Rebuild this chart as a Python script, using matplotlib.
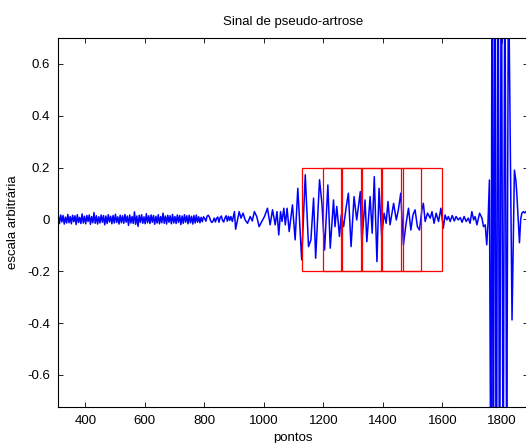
import numpy as np
import matplotlib
matplotlib.use("Agg")
import matplotlib.pyplot as plt
from matplotlib.patches import Rectangle

plt.rcParams['font.family'] = ['Liberation Sans', 'DejaVu Sans']

# ---- data ----
noise_start = 309
noise_step = 4
noise_vals = [
    0.014, -0.016, 0.017, -0.010, 0.015, -0.018, 0.009, -0.014, 0.019, -0.013,
    0.011, -0.017, 0.016, -0.009, 0.014, -0.020, 0.018, -0.012, 0.008, -0.016,
    0.021, -0.014, 0.012, -0.017, 0.015, -0.008, 0.017, -0.019, 0.011, -0.013,
    0.026, -0.015, 0.014, -0.018, 0.010, -0.014, 0.017, -0.011, 0.015, -0.021,
    0.013, -0.016, 0.018, -0.010, 0.012, -0.017, 0.015, -0.014, 0.020, -0.012,
    0.010, -0.018, 0.016, -0.013, 0.014, -0.015, 0.019, -0.011, 0.013, -0.023,
    0.017, -0.014, 0.011, -0.016, 0.029, -0.019, 0.013, -0.027, 0.016, -0.012,
    0.018, -0.015, 0.010, -0.017, 0.022, -0.013, 0.014, -0.016, 0.017, -0.011,
    0.015, -0.019, 0.012, -0.014, 0.018, -0.017, 0.011, -0.013, 0.024, -0.015,
    0.013, -0.018, 0.016, -0.011, 0.014, -0.017, 0.019, -0.014, 0.011, -0.016,
    0.017, -0.012, 0.015, -0.020, 0.013, -0.015, 0.018, -0.011, 0.014, -0.017,
    0.016, -0.013, 0.012, -0.018, 0.015, -0.014, 0.017, -0.011, 0.010, -0.013,
    0.008, -0.009, 0.010, 0.004, -0.007, 0.012, 0.016, 0.009, -0.005, -0.012,
    -0.007, 0.005, -0.010, 0.004, 0.009, -0.011, 0.007, 0.013, -0.004, -0.010,
    0.005, 0.014, -0.007, 0.012, -0.004,
]

active_x = [
    889, 894, 901, 905, 917, 923, 930, 937, 945, 954, 961, 968, 976, 984, 993,
    1002, 1012, 1021, 1029, 1038, 1044, 1050, 1056, 1061, 1067, 1072, 1078, 1085,
    1096, 1105, 1114, 1127, 1139, 1150, 1158, 1167, 1174, 1187, 1195, 1204, 1215,
    1223, 1234, 1239, 1245, 1254, 1260, 1268, 1276, 1284, 1293, 1303, 1312, 1324,
    1329, 1340, 1346, 1357, 1364, 1371, 1380, 1387, 1396, 1404, 1411, 1417, 1424,
    1436, 1445, 1452, 1460, 1469, 1478, 1486, 1494, 1501, 1508, 1516, 1523, 1531,
    1536, 1542, 1550, 1559, 1565, 1572, 1579, 1587, 1595, 1603, 1609, 1615, 1620,
    1626, 1633, 1640, 1646, 1653, 1660, 1666, 1673, 1680, 1687, 1693, 1699, 1705,
    1710, 1716, 1725, 1733, 1738, 1744, 1749, 1753, 1758, 1763, 1767, 1771, 1776,
    1781, 1787, 1792, 1798, 1804, 1810, 1816, 1822, 1834, 1842, 1847, 1850, 1859,
    1863, 1867, 1872, 1877, 1885,
]
active_y = [
    0.011, -0.008, 0.030, -0.038, 0.030, 0.005, 0.024, -0.002, -0.015, 0.011,
    -0.006, 0.030, 0.011, -0.028, -0.008, 0.011, 0.043, -0.021, 0.037, -0.021,
    0.030, -0.060, 0.030, -0.008, 0.043, -0.021, 0.043, -0.047, 0.056, -0.079,
    0.120, -0.156, 0.172, -0.105, -0.079, 0.082, -0.150, 0.153, 0.062, -0.118,
    0.133, -0.111, 0.075, -0.028, 0.050, -0.066, 0.017, -0.028, 0.043, 0.101,
    -0.105, 0.088, -0.002, 0.107, -0.092, 0.075, -0.086, 0.088, -0.053, 0.165,
    -0.163, 0.120, -0.066, 0.024, -0.015, 0.069, -0.021, 0.062, -0.002, 0.037,
    0.101, -0.098, -0.015, 0.043, -0.041, 0.017, 0.037, -0.028, -0.041, 0.037,
    0.062, -0.008, 0.024, 0.005, 0.030, -0.015, 0.024, -0.008, 0.043, -0.034,
    0.017, -0.002, 0.011, -0.008, 0.015, -0.006, 0.011, -0.002, 0.007, -0.011,
    0.011, -0.008, 0.005, -0.015, 0.030, -0.002, 0.011, -0.021, 0.024, 0.005,
    -0.028, -0.021, -0.098, -0.021, 0.152, -1.2, 1.3, -1.5, 1.6, -1.6, 1.5,
    -1.4, 1.3, -1.2, 1.1, -1.0, 1.0, -0.388, 0.19, 0.15, 0.10, -0.09, 0.0,
    0.024, 0.030, 0.025, 0.035,
]

window_starts = [1129, 1197, 1264, 1331, 1398, 1466]
window_width = 131
window_low = -0.2
window_high = 0.2

x_ticks = [400, 600, 800, 1000, 1200, 1400, 1600, 1800]
y_ticks = [-0.6, -0.4, -0.2, 0, 0.2, 0.4, 0.6]

# ---- build the signal ----
noise_x = noise_start + noise_step * np.arange(len(noise_vals))
sig_x = np.concatenate([noise_x, np.array(active_x)])
sig_y = np.concatenate([np.array(noise_vals), np.array(active_y)])

fig = plt.figure(figsize=(5.26, 4.43), dpi=100)
ax = fig.add_axes([58.3 / 526, 1 - 407 / 443, (527.5 - 58.3) / 526, (407 - 38) / 443])

ax.plot(sig_x, sig_y, color='#0000ff', lw=1.1)

for s in window_starts:
    ax.add_patch(Rectangle((s, window_low), window_width, window_high - window_low,
                           fill=False, edgecolor='#ff0000', lw=0.9, zorder=3))

ax.set_xlim(309, 1886)
ax.set_ylim(-0.724, 0.70)
ax.set_xticks(x_ticks)
ax.set_yticks(y_ticks)
ax.set_yticklabels(['-0.6', '-0.4', '-0.2', '0', '0.2', '0.4', '0.6'])
ax.tick_params(direction='in', top=True, right=True, length=3.5, width=0.6,
               labelsize=9.5, pad=6)
for sp in ax.spines.values():
    sp.set_linewidth(0.8)

ax.set_title('Sinal de pseudo-artrose', fontsize=9.5, pad=9)
ax.set_xlabel('pontos', fontsize=9.5, labelpad=3)
ax.set_ylabel('escala arbitrária', fontsize=9.5, labelpad=6)

fig.savefig('out.png', dpi=100)
